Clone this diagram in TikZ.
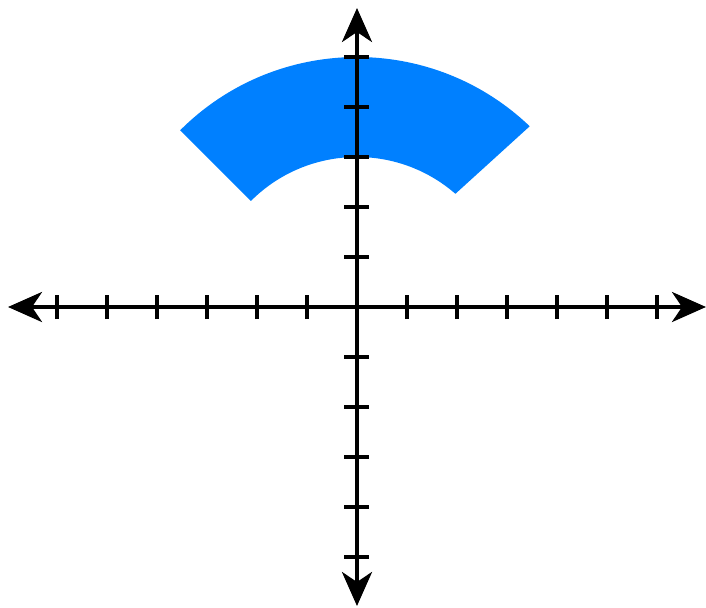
\documentclass[tikz,border=0pt]{standalone}
\usetikzlibrary{arrows.meta}
\definecolor{sectorblue}{RGB}{0,128,255}
\begin{document}
\begin{tikzpicture}[
  axis/.style={line width=2.2pt, {Stealth[length=0.68cm,width=0.6cm,inset=0.2cm]}-{Stealth[length=0.68cm,width=0.6cm,inset=0.2cm]}},
  tick/.style={line width=2.2pt}
]
\useasboundingbox (-7.14,-6.0) rectangle (6.98,6.14);
% sector
\fill[sectorblue] (135:5) arc[start angle=135,end angle=46.3,radius=5] -- (49:3) arc[start angle=49,end angle=135,radius=3] -- cycle;
% axes
\coordinate (xl) at (-6.98,0);
\coordinate (xr) at (6.98,0);
\coordinate (yb) at (0,-5.98);
\coordinate (yt) at (0,5.98);
\draw[axis] (xl) -- (xr);
\draw[axis] (yb) -- (yt);
\foreach \i in {-6,-5,-4,-3,-2,-1,1,2,3,4,5,6} {
  \draw[tick] (\i,-0.24) -- (\i,0.24);
}
\foreach \i in {-5,-4,-3,-2,-1,1,2,3,4,5} {
  \draw[tick] (-0.26,\i) -- (0.24,\i);
}
\end{tikzpicture}
\end{document}
